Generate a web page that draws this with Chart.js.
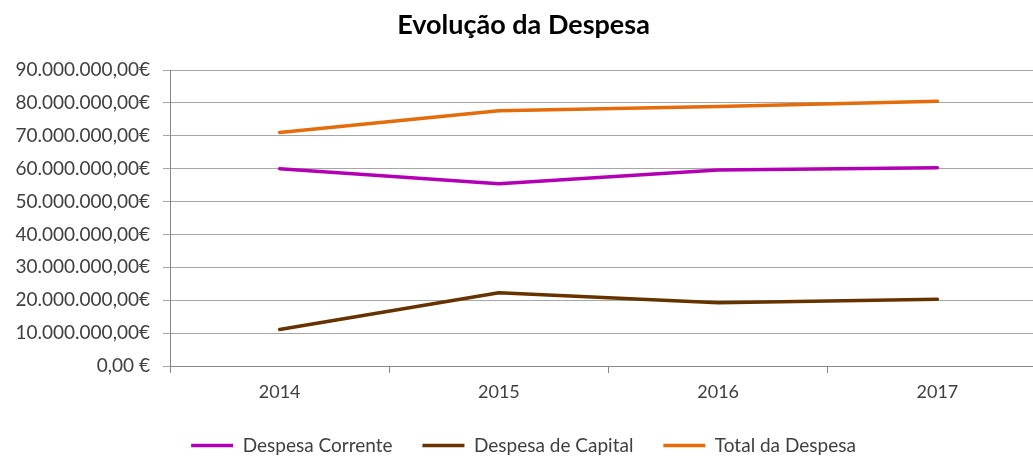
<!DOCTYPE html>
<html>
<head>
<meta charset="utf-8">
<script src="https://cdn.jsdelivr.net/npm/chart.js@4"></script>
<style>
  html, body { margin: 0; padding: 0; background: #fff; overflow: hidden; }
  #wrap { width: 1062px; height: 465px; }
</style>
</head>
<body>
<div id="wrap"><canvas id="grafico"></canvas></div>
<script>
const anos = ['2014', '2015', '2016', '2017'];
const despesaCorrente = [60000000, 55400000, 59600000, 60300000];
const despesaCapital = [11100000, 22300000, 19200000, 20300000];
const totalDespesa = [71000000, 77600000, 78900000, 80500000];

function formatarEuro(v) {
    if (v === 0) return '0,00 €';
    return Math.round(v).toString().replace(/\B(?=(\d{3})+(?!\d))/g, '.') + ',00€';
}

const ctx = document.getElementById('grafico').getContext('2d');
new Chart(ctx, {
    type: 'line',
    data: {
        labels: anos,
        datasets: [
            { label: 'Despesa Corrente', data: despesaCorrente, borderColor: '#B400B4', backgroundColor: '#B400B4', borderWidth: 3.5 },
            { label: 'Despesa de Capital', data: despesaCapital, borderColor: '#663300', backgroundColor: '#663300', borderWidth: 3.5 },
            { label: 'Total da Despesa', data: totalDespesa, borderColor: '#E46C0A', backgroundColor: '#E46C0A', borderWidth: 3.5 }
        ]
    },
    options: {
        responsive: true,
        maintainAspectRatio: false,
        animation: false,
        devicePixelRatio: 1,
        elements: {
            line: { tension: 0, borderCapStyle: 'round', borderJoinStyle: 'round' },
            point: { radius: 0, hoverRadius: 0 }
        },
        layout: { padding: { left: 0, right: 15, top: 0, bottom: 0 } },
        plugins: {
            title: {
                display: true,
                text: 'Evolução da Despesa',
                color: '#000',
                font: { family: 'Lato', size: 27, weight: 'bold' },
                padding: { top: 9, bottom: 28.6 }
            },
            legend: {
                position: 'bottom',
                labels: {
                    color: '#404040',
                    font: { family: 'Lato', size: 19 },
                    usePointStyle: true,
                    pointStyle: 'line',
                    pointStyleWidth: 42,
                    padding: 30
                }
            },
            tooltip: { enabled: false }
        },
        scales: {
            x: {
                offset: true,
                afterFit: function (axis) { axis.height = 40; },
                grid: { offset: true, drawOnChartArea: false, tickLength: 7, color: '#888' },
                border: { color: '#888' },
                ticks: { color: '#404040', font: { family: 'Lato', size: 18 }, padding: 8 }
            },
            y: {
                min: 0,
                max: 90000000,
                afterFit: function (axis) { axis.width = 170; },
                grid: { color: '#A6A6A6', tickLength: 7 },
                border: { color: '#888' },
                ticks: {
                    stepSize: 10000000,
                    color: '#404040',
                    font: { family: 'Lato', size: 19 },
                    padding: 13,
                    callback: function (v) { return formatarEuro(v); }
                }
            }
        }
    }
});
</script>
</body>
</html>
